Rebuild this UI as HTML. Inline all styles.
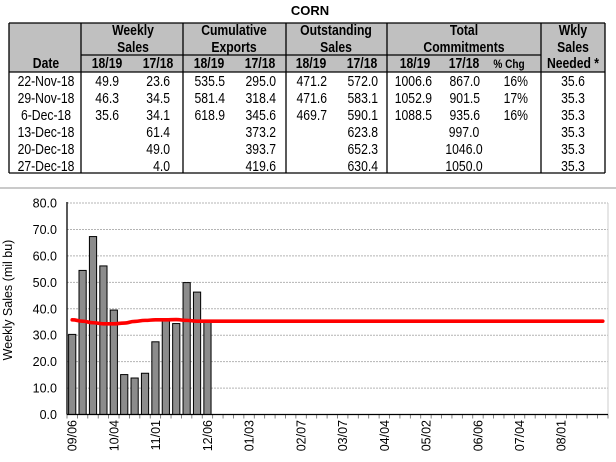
<!DOCTYPE html>
<html><head><meta charset="utf-8"><style>
html,body{margin:0;padding:0;background:#fff;}
svg{display:block;font-family:"Liberation Sans",Arial,sans-serif;}
</style></head><body>
<svg id="root" width="616" height="462" viewBox="0 0 616 462">
<text x="310" y="15" text-anchor="middle" font-size="13" font-weight="bold">CORN</text>
<g id="table">
<rect x="9" y="23" width="596" height="49" fill="#c0c0c0"/>
<g stroke="#000" stroke-width="1.3" fill="none">
<line x1="9" y1="23" x2="605" y2="23"/>
<line x1="81" y1="55" x2="541" y2="55"/>
<line x1="9" y1="72" x2="605" y2="72"/>
<line x1="9" y1="173" x2="605" y2="173"/>
<line x1="9" y1="23" x2="9" y2="173"/>
<line x1="81" y1="23" x2="81" y2="173"/>
<line x1="183" y1="23" x2="183" y2="173"/>
<line x1="286" y1="23" x2="286" y2="173"/>
<line x1="387" y1="23" x2="387" y2="173"/>
<line x1="541" y1="23" x2="541" y2="173"/>
<line x1="605" y1="23" x2="605" y2="173"/>
</g>
<g id="hdr" font-size="14.5" font-weight="bold" text-anchor="middle"></g>
<g font-size="14.5" id="rows"></g>
</g>
<line x1="0" y1="188" x2="616" y2="188" stroke="#aaa" stroke-width="1.2"/>
<g id="chart"></g>
</svg>
<script>
var rowData=[
["22-Nov-18","49.9","23.6","535.5","295.0","471.2","572.0","1006.6","867.0","16%","35.6"],
["29-Nov-18","46.3","34.5","581.4","318.4","471.6","583.1","1052.9","901.5","17%","35.3"],
["6-Dec-18","35.6","34.1","618.9","345.6","469.7","590.1","1088.5","935.6","16%","35.3"],
["13-Dec-18","","61.4","","373.2","","623.8","","997.0","","35.3"],
["20-Dec-18","","49.0","","393.7","","652.3","","1046.0","","35.3"],
["27-Dec-18","","4.0","","419.6","","630.4","","1050.0","","35.3"]];
var headers=[["Weekly",133,35],["Sales",133,52],["Cumulative",234,35],["Exports",234,52],["Outstanding",336,35],["Sales",336,52],["Total",464,35],["Commitments",464,52],["Wkly",573,35],["Sales",573,52],["Date",46,68],["18/19",107,68],["17/18",158,68],["18/19",209,68],["17/18",260,68],["18/19",311,68],["17/18",362,68],["18/19",415,68],["17/18",464,68],["% Chg",509,68],["Needed *",573,68]];
var categories=["09/06","09/13","09/20","09/27","10/04","10/11","10/18","10/25","11/01","11/08","11/15","11/22","11/29","12/06"];
var salesValues=[30.3,54.5,67.3,56.2,39.5,15.1,13.8,15.6,27.5,35.6,34.4,49.9,46.3,35.6];
var neededValues=[35.8,35.3,34.7,34.3,34.3,34.6,35.2,35.6,35.8,35.8,35.9,35.6,35.3,35.3];
var neededTail=35.3;
var yTicks=[0,10,20,30,40,50,60,70,80];
var xTickLabels=["09/06","10/04","11/01","12/06","01/03","02/07","03/07","04/04","05/02","06/06","07/04","08/01"];
var xTickWeeks=[0,4,8,13,17,22,26,30,34,39,43,47];
var NS="http://www.w3.org/2000/svg";
function mk(tag,attrs,parent,txt){var e=document.createElementNS(NS,tag);for(var k in attrs)e.setAttribute(k,attrs[k]);if(txt!==undefined)e.textContent=txt;parent.appendChild(e);return e;}
var SX=0.84;
var hdrG=document.getElementById('hdr');
headers.forEach(function(h){
  var attrs={x:0,y:0,transform:'translate('+h[1]+','+h[2]+') scale('+SX+',1)'};
  if(h[0]=="% Chg")attrs['font-size']='12';
  var t=mk('text',attrs,hdrG,h[0]);
  
  
});
var rowsG=document.getElementById('rows');
var colX=[46,119,170,225,276,327,378,432,480,528,573];
var colA=["middle","end","end","end","end","end","end","end","end","end","middle"];
rowData.forEach(function(r,i){
  var y=86+i*17;
  r.forEach(function(v,j){
    if(!v)return;
    var x=colX[j],a=colA[j];
    if(j==8&&i>=3){x=464;a="middle";}
    var t=mk('text',{x:0,y:0,transform:'translate('+x+','+y+') scale('+SX+',1)','text-anchor':a},rowsG,v);
    
    
  });
});
var L=67,R=608,T=203,B=414.5,N=52,slot=(R-L)/N;
function xs(i){return L+(i+0.5)*slot;}
function ys(v){return B-(v/80)*(B-T);}
var g=document.getElementById('chart');
yTicks.forEach(function(v){
  var y=ys(v);
  if(v>0){var l=mk('line',{x1:L,y1:y,x2:R,y2:y,stroke:'#b4b4b4','stroke-dasharray':'2,1',"stroke-width":1},g);
  
  }
  var t=mk('text',{x:57,y:y+4.5,'text-anchor':'end','font-size':'12.5'},g,v.toFixed(1));
  
  
});
mk('line',{x1:R,y1:T,x2:R,y2:B,stroke:'#ccc'},g);
for(var i=0;i<=N;i++){var xx=L+i*slot;mk('line',{x1:xx,y1:B,x2:xx,y2:B+4,stroke:'#666','stroke-width':0.8},g);}
salesValues.forEach(function(v,i){
  var b=mk('rect',{x:xs(i)-3.6,y:ys(v),width:7.2,height:B-ys(v),fill:'#8c8c8c',stroke:'#000','stroke-width':1},g);
  
  
});
mk('line',{x1:L,y1:T-1,x2:L,y2:B,stroke:'#000','stroke-width':1.3},g);
mk('line',{x1:L,y1:B,x2:R,y2:B,stroke:'#000','stroke-width':1.3},g);
var pts=[];
for(var i=0;i<N;i++){pts.push([xs(i),ys(i<neededValues.length?neededValues[i]:neededTail)]);}
var d='M'+pts[0][0]+','+pts[0][1];
for(var i=1;i<pts.length;i++){var p0=pts[i-1],p1=pts[i];var cx=(p0[0]+p1[0])/2;d+=' C'+cx+','+p0[1]+' '+cx+','+p1[1]+' '+p1[0]+','+p1[1];}
var line=mk('path',{d:d,fill:'none',stroke:'#ff0000','stroke-width':3.6,'stroke-linecap':'round'},g);


xTickLabels.forEach(function(lb,k){
  var x=xs(xTickWeeks[k])+4.5;
  var t=mk('text',{x:0,y:0,transform:'translate('+x+',420) rotate(-90)','text-anchor':'end','font-size':'12.5'},g,lb);
  
  
});
var yt=mk('text',{x:0,y:0,transform:'translate(12,300) rotate(-90)','text-anchor':'middle','font-size':'12.5'},g,'Weekly Sales (mil bu)');


</script>
</body></html>
